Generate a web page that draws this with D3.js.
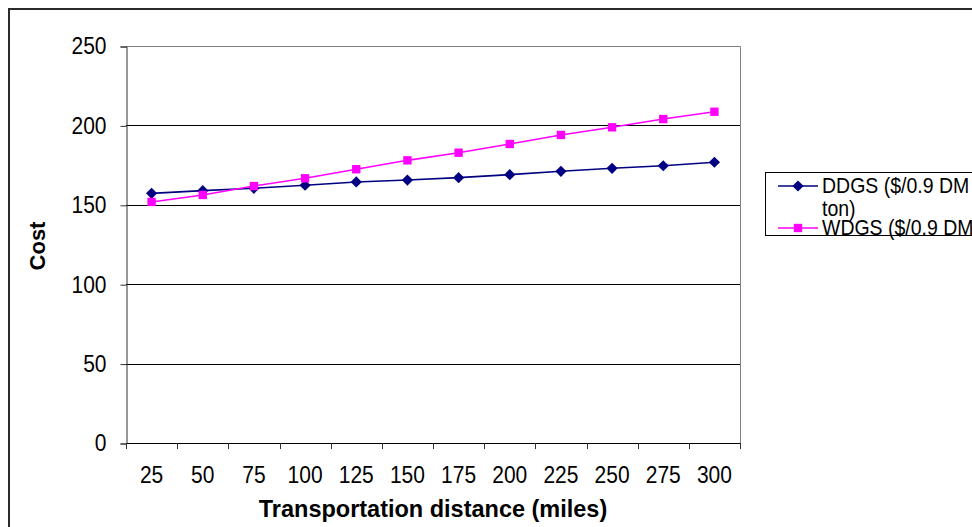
<!DOCTYPE html>
<html>
<head>
<meta charset="utf-8">
<script src="https://cdn.jsdelivr.net/npm/d3@7/dist/d3.min.js"></script>
<style>
  html, body { margin: 0; padding: 0; background: #fff; }
  svg { display: block; font-family: "Liberation Sans", Arial, sans-serif; }
</style>
</head>
<body>
<svg id="chart" width="972" height="527"></svg>
<script>
// Transportation distance categories (miles)
const distances = ["25", "50", "75", "100", "125", "150", "175", "200", "225", "250", "275", "300"];
// Cost per 0.9 DM ton for each product
const ddgs = [157.2, 158.9, 160.4, 162.3, 164.4, 165.6, 167.1, 169.0, 171.1, 173.0, 174.6, 176.8];
const wdgs = [151.8, 156.2, 161.8, 166.7, 172.4, 178.0, 182.8, 188.3, 194.0, 198.8, 204.0, 208.6];
const yTicks = [0, 50, 100, 150, 200, 250];
const seriesNames = ["DDGS ($/0.9 DM ton)", "WDGS ($/0.9 DM ton)"];
const seriesColors = ["#000080", "#FF00FF"];
const seriesShapes = [d3.symbolDiamond2, d3.symbolSquare];

const svg = d3.select("#chart");
const plot = { left: 126, right: 740, top: 46, bottom: 443 };
const stretch = 1.1; // text is drawn slightly taller than wide

// outer chart frame (extends past the window on the right and bottom)
svg.append("rect")
  .attr("x", 9).attr("y", 9).attr("width", 1100).attr("height", 700)
  .attr("fill", "#fff").attr("stroke", "#2b2b2b").attr("stroke-width", 2);

const x = d3.scaleBand().domain(distances).range([plot.left, plot.right]).paddingInner(0).paddingOuter(0);
const y = d3.scaleLinear().domain([0, 250]).range([plot.bottom, plot.top]);

// gridlines
svg.append("g").selectAll("line")
  .data(yTicks.filter(t => t > 0 && t < 250))
  .join("line")
  .attr("x1", plot.left).attr("x2", plot.right)
  .attr("y1", d => Math.round(y(d)) + 0.5).attr("y2", d => Math.round(y(d)) + 0.5)
  .attr("stroke", "#000").attr("stroke-width", 1);

// plot area border (top and right)
svg.append("path")
  .attr("d", `M${plot.left},${plot.top + 0.5}H${plot.right + 0.5}V${plot.bottom}`)
  .attr("fill", "none").attr("stroke", "#808080").attr("stroke-width", 1);

// y axis
const yAxis = svg.append("g")
  .attr("transform", `translate(${plot.left + 0.5},0.5)`)
  .call(d3.axisLeft(y).tickValues(yTicks).tickSize(6).tickPadding(14));
yAxis.select(".domain").attr("stroke", "#333");
yAxis.selectAll(".tick line").attr("stroke", "#333");
yAxis.selectAll("text").attr("font-size", 21).attr("fill", "#000")
  .attr("font-family", "Liberation Sans, Arial, sans-serif")
  .attr("transform", `scale(1,${stretch})`);

// x axis: boundary ticks between categories, labels centered in categories
const bounds = d3.range(distances.length + 1).map(i => plot.left + i * x.step());
const xg = svg.append("g");
xg.append("line")
  .attr("x1", plot.left).attr("x2", plot.right + 1)
  .attr("y1", plot.bottom + 0.5).attr("y2", plot.bottom + 0.5)
  .attr("stroke", "#000");
xg.selectAll("line.tick")
  .data(bounds)
  .join("line").attr("class", "tick")
  .attr("x1", d => Math.round(d) + 0.5).attr("x2", d => Math.round(d) + 0.5)
  .attr("y1", plot.bottom).attr("y2", plot.bottom + 6)
  .attr("stroke", "#333");
xg.selectAll("text")
  .data(distances)
  .join("text")
  .attr("transform", d => `translate(${x(d) + x.bandwidth() / 2},483) scale(1,${stretch})`)
  .attr("text-anchor", "middle")
  .attr("font-size", 21)
  .text(d => d);

// axis titles
svg.append("text")
  .attr("transform", `translate(433,517) scale(1,1.05)`)
  .attr("text-anchor", "middle")
  .attr("font-size", 23.5).attr("font-weight", "bold")
  .text("Transportation distance (miles)");
svg.append("text")
  .attr("transform", "translate(45,246) rotate(-90)")
  .attr("text-anchor", "middle")
  .attr("font-size", 22).attr("font-weight", "bold")
  .text("Cost");

// series lines and markers
const cx = d => x(d) + x.bandwidth() / 2;
[ddgs, wdgs].forEach((vals, i) => {
  const pts = distances.map((d, j) => [cx(d), y(vals[j])]);
  svg.append("path")
    .attr("d", d3.line()(pts))
    .attr("fill", "none").attr("stroke", seriesColors[i]).attr("stroke-width", 1.6);
  svg.append("g").selectAll("path")
    .data(pts)
    .join("path")
    .attr("transform", p => `translate(${p[0]},${p[1]})`)
    .attr("d", d3.symbol().type(seriesShapes[i]).size(i === 0 ? 80 : 70)())
    .attr("fill", seriesColors[i]);
});

// legend: labels wrap after "DM"; wrapped lines that fall below the box are not shown
const legend = { x: 765, y: 172, w: 260, h: 63 };
const lineGap = 21;
const lg = svg.append("g");
lg.append("rect")
  .attr("x", legend.x + 0.5).attr("y", legend.y + 0.5).attr("width", legend.w).attr("height", legend.h)
  .attr("fill", "#fff").attr("stroke", "#000").attr("stroke-width", 1);
seriesNames.forEach((name, i) => {
  const ly = 186 + i * 42;
  lg.append("line")
    .attr("x1", 778).attr("x2", 818).attr("y1", ly).attr("y2", ly)
    .attr("stroke", seriesColors[i]).attr("stroke-width", 1.6);
  lg.append("path")
    .attr("transform", `translate(798,${ly})`)
    .attr("d", d3.symbol().type(seriesShapes[i]).size(i === 0 ? 80 : 70)())
    .attr("fill", seriesColors[i]);
  const words = name.split(" ");
  const lines = [words.slice(0, 3).join(" "), words.slice(3).join(" ")]
    .filter((ln, k) => ly + 7 + k * lineGap * stretch <= legend.y + legend.h);
  const t = lg.append("text").attr("font-size", 19.5)
    .attr("transform", `translate(822,${ly + 7}) scale(1,${stretch})`);
  lines.forEach((ln, k) => {
    t.append("tspan").attr("x", 0).attr("dy", k === 0 ? 0 : lineGap).text(ln);
  });
});
</script>
</body>
</html>
